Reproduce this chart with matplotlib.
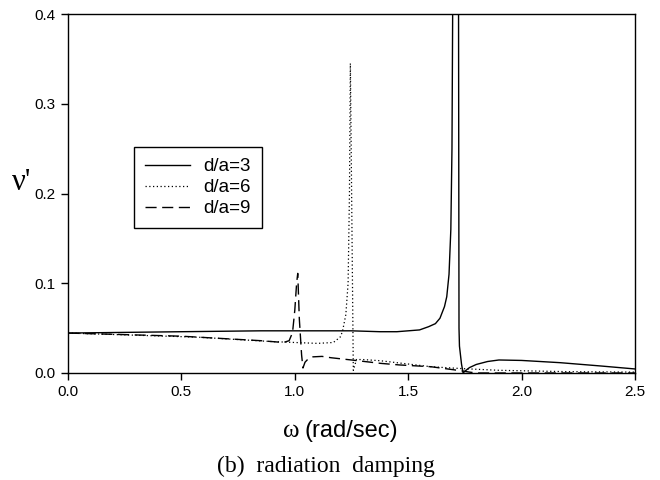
import matplotlib
matplotlib.use("Agg")
from matplotlib import pyplot as plt

# d/a = 3 (solid)
w3 = [0.0, 0.5, 0.85, 1.0, 1.25, 1.376, 1.45, 1.55, 1.59, 1.62, 1.64, 1.66, 1.67, 1.68,
      1.688, 1.693, 1.696, 1.70, 1.718, 1.722, 1.724, 1.726, 1.735, 1.742, 1.75, 1.77,
      1.80, 1.85, 1.90, 2.0, 2.17, 2.35, 2.5]
v3 = [0.0445, 0.046, 0.047, 0.047, 0.047, 0.046, 0.046, 0.048, 0.0516, 0.055, 0.061, 0.074, 0.085, 0.11,
      0.16, 0.25, 0.4, 0.6, 0.6, 0.4, 0.05, 0.03, 0.01, 0.0, 0.002, 0.006,
      0.0095, 0.0128, 0.0145, 0.014, 0.0115, 0.0078, 0.0045]

# d/a = 6 (dotted)
w6 = [0.0, 0.5, 0.58, 0.9, 1.0, 1.1, 1.17, 1.2, 1.21, 1.225, 1.235, 1.241, 1.245,
      1.258, 1.272, 1.3, 1.376, 1.5, 1.6, 1.73, 1.9, 2.0, 2.2, 2.5]
v6 = [0.0445, 0.0405, 0.0398, 0.035, 0.034, 0.033, 0.034, 0.04, 0.046, 0.065, 0.1, 0.2, 0.345,
      0.003, 0.015, 0.015, 0.0137, 0.010, 0.007, 0.005, 0.003, 0.0025, 0.0015, 0.001]

# d/a = 9 (dashed)
w9 = [0.0, 0.5, 0.85, 0.95, 0.975, 0.99, 1.0, 1.008, 1.013, 1.02, 1.03, 1.036, 1.045,
      1.06, 1.08, 1.12, 1.16, 1.25, 1.376, 1.46, 1.6, 1.73, 1.77, 1.8, 2.5]
v9 = [0.0445, 0.041, 0.036, 0.034, 0.036, 0.045, 0.07, 0.1, 0.111, 0.06, 0.02, 0.0056, 0.012,
      0.016, 0.018, 0.0185, 0.017, 0.0145, 0.0108, 0.009, 0.007, 0.0026, 0.001, 0.0, 0.0]

plt.rcParams['font.family'] = ['Liberation Sans', 'DejaVu Sans']

fig = plt.figure(figsize=(6.6, 4.8), dpi=100)
ax = fig.add_axes([68 / 660, 1 - 373 / 480, 567 / 660, 359 / 480])

ax.plot(w3, v3, color='black', lw=1.0, linestyle='-', label='d/a=3')
ax.plot(w6, v6, color='black', lw=0.9, linestyle=(0, (1, 2)), label='d/a=6')
ax.plot(w9, v9, color='black', lw=1.0, linestyle=(0, (8, 4)), label='d/a=9')

ax.set_xlim(0, 2.5)
ax.set_ylim(0, 0.4)
ax.set_xticks([0.0, 0.5, 1.0, 1.5, 2.0, 2.5])
ax.set_yticks([0.0, 0.1, 0.2, 0.3, 0.4])
ax.set_xticklabels(['0.0', '0.5', '1.0', '1.5', '2.0', '2.5'])
ax.set_yticklabels(['0.0', '0.1', '0.2', '0.3', '0.4'])
ax.tick_params(direction='out', length=5, width=1, labelsize=11, pad=4, colors='black')
for s in ax.spines.values():
    s.set_linewidth(1.0)

leg = ax.legend(loc='upper left', bbox_to_anchor=((134 - 68) / 567, (373 - 147) / 359),
                borderaxespad=0, fancybox=False, edgecolor='black', framealpha=1,
                fontsize=13.5, handlelength=2.4, handletextpad=0.7, labelspacing=0.2,
                borderpad=0.6)
leg.get_frame().set_linewidth(1.0)

fig.text(22 / 660, 1 - 182 / 480, "ν'", family='Liberation Serif', fontsize=22,
         ha='center', va='center')

fig.text(283 / 660, 1 - 437 / 480, "ω", family='Liberation Serif', fontsize=18,
         ha='left', va='baseline')
fig.text(304 / 660, 1 - 437 / 480, "(rad/sec)", fontsize=17, ha='left', va='baseline')

fig.text(326 / 660, 1 - 472 / 480, "(b)  radiation  damping", family='Liberation Serif',
         fontsize=17, ha='center', va='baseline')

fig.savefig('out.png', dpi=100)
